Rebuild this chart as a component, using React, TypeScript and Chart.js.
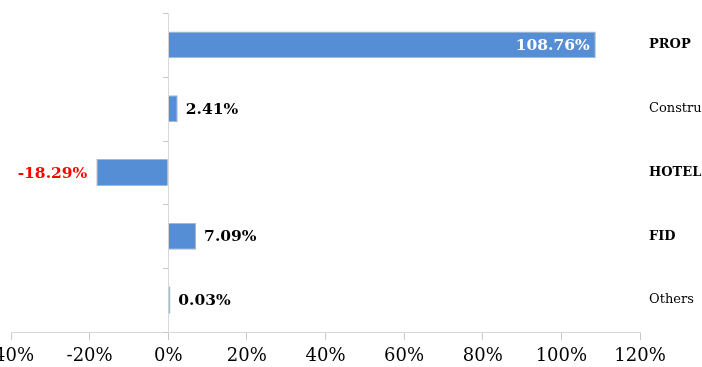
import React, { useEffect, useRef } from 'react';
import { Chart, registerables } from 'chart.js';

Chart.register(...registerables);

const categories = ['PROP', 'Construction', 'HOTEL', 'FID', 'Others'];
const values = [108.76, 2.41, -18.29, 7.09, 0.03];
const valueLabels = ['108.76%', '2.41%', '-18.29%', '7.09%', '0.03%'];
const xTickValues = [-40, -20, 0, 20, 40, 60, 80, 100, 120];
const boldCategories = ['PROP', 'HOTEL', 'FID'];

const FONT = '"DejaVu Serif", "Liberation Serif", serif';

const valueLabelsPlugin = {
  id: 'valueLabels',
  afterDatasetsDraw(chart: any) {
    const { ctx } = chart;
    const meta = chart.getDatasetMeta(0);
    ctx.save();
    ctx.font = `bold 15.5px ${FONT}`;
    ctx.textBaseline = 'middle';
    meta.data.forEach((bar: any, i: number) => {
      const v = values[i];
      const text = valueLabels[i];
      const { x, y, base } = bar.getProps(['x', 'y', 'base'], true);
      const w = ctx.measureText(text).width;
      if (v < 0) {
        ctx.fillStyle = '#FF0000';
        ctx.textAlign = 'right';
        ctx.fillText(text, x - 9, y + 1);
      } else if (x - base > w + 20) {
        ctx.fillStyle = '#FFFFFF';
        ctx.textAlign = 'right';
        ctx.fillText(text, x - 6, y + 1);
      } else {
        ctx.fillStyle = '#000000';
        ctx.textAlign = 'left';
        ctx.fillText(text, Math.max(x, base + 1) + 8, y + 1);
      }
    });
    ctx.restore();
  },
};

const zeroAxisTicksPlugin = {
  id: 'zeroAxisTicks',
  beforeDatasetsDraw(chart: any) {
    const { ctx } = chart;
    const xs = chart.scales.x;
    const ys = chart.scales.y;
    const x0 = Math.round(xs.getPixelForValue(0));
    ctx.save();
    ctx.strokeStyle = '#c8c8c8';
    ctx.lineWidth = 1;
    for (let i = 0; i <= categories.length; i++) {
      const y = Math.round(ys.getPixelForValue(i - 0.5)) + 0.5;
      ctx.beginPath();
      ctx.moveTo(x0 - 5, y);
      ctx.lineTo(x0, y);
      ctx.stroke();
    }
    ctx.restore();
  },
};

export default function App() {
  const canvasRef = useRef<HTMLCanvasElement | null>(null);

  useEffect(() => {
    if (!canvasRef.current) return;
    const chart = new Chart(canvasRef.current, {
      type: 'bar',
      data: {
        labels: categories,
        datasets: [
          {
            data: values,
            backgroundColor: (ctx: any) => (Math.abs(values[ctx.dataIndex] ?? 1) < 1 ? '#9dbbe6' : '#558ED5'),
            borderColor: '#b4b4b4',
            borderWidth: (ctx: any) => (Math.abs(values[ctx.dataIndex] ?? 1) < 1 ? 0 : 1),
            barPercentage: 0.42,
            categoryPercentage: 1,
            minBarLength: 2,
          },
        ],
      },
      options: {
        indexAxis: 'y',
        animation: false,
        responsive: true,
        maintainAspectRatio: false,
        layout: { padding: { top: 13, left: 11, right: 0, bottom: 0 } },
        plugins: {
          legend: { display: false },
          tooltip: { enabled: false },
        },
        scales: {
          x: {
            type: 'linear',
            min: -40,
            max: 120,
            afterBuildTicks: (scale: any) => {
              scale.ticks = xTickValues.map((v) => ({ value: v }));
            },
            afterFit: (scale: any) => {
              scale.paddingLeft = 0;
              scale.paddingRight = 0;
              scale.height = 35;
            },
            border: { display: true, color: '#d9d9d9', width: 1 },
            grid: {
              color: (ctx: any) => (ctx.tick && ctx.tick.value === 0 ? '#d9d9d9' : 'rgba(0,0,0,0)'),
              tickColor: '#c8c8c8',
              tickLength: 8,
              drawTicks: true,
            },
            ticks: {
              color: '#000000',
              font: { family: FONT, size: 18 },
              padding: 6,
              maxRotation: 0,
              callback: (v: any) => `${v}%`,
            },
          },
          y: {
            position: 'right',
            afterFit: (scale: any) => {
              scale.width = 62;
              scale.paddingTop = 0;
              scale.paddingBottom = 0;
            },
            border: { display: false },
            grid: { display: false, drawTicks: false },
            ticks: {
              color: '#000000',
              padding: 9,
              font: (ctx: any) => ({
                family: FONT,
                size: 13,
                weight: boldCategories.includes(categories[ctx.index]) ? 'bold' : 'normal',
              }),
            },
          },
        },
      },
      plugins: [zeroAxisTicksPlugin, valueLabelsPlugin],
    } as any);
    return () => chart.destroy();
  }, []);

  return (
    <div style={{ position: 'fixed', left: 0, top: 0, width: 702, height: 367, background: '#ffffff' }}>
      <canvas ref={canvasRef} />
    </div>
  );
}
